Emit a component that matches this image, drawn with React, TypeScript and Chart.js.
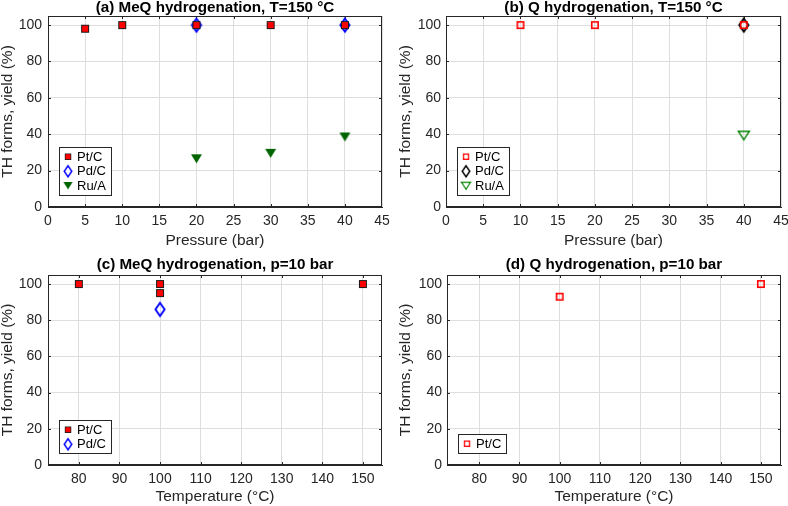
import React, { useEffect, useRef } from 'react';
import { Chart, registerables } from 'chart.js';

Chart.register(...registerables);

// ---------- tick labels ----------
const yieldTicks = [0, 20, 40, 60, 80, 100];
const pressureTicks = [0, 5, 10, 15, 20, 25, 30, 35, 40, 45];
const temperatureTicks = [80, 90, 100, 110, 120, 130, 140, 150];

// ---------- (a) MeQ hydrogenation, T=150 °C ----------
const aPtPressure = [5, 10, 20, 30, 40];
const aPtYield = [98, 100, 100, 100, 100];
const aPdPressure = [20, 40];
const aPdYield = [100, 100];
const aRuPressure = [20, 30, 40];
const aRuYield = [26.5, 29.5, 38.5];

// ---------- (b) Q hydrogenation, T=150 °C ----------
const bPtPressure = [10, 20, 40];
const bPtYield = [100, 100, 100];
const bPdPressure = [40];
const bPdYield = [100];
const bRuPressure = [40];
const bRuYield = [39.3];

// ---------- (c) MeQ hydrogenation, p=10 bar ----------
const cPtTemperature = [80, 100, 100, 150];
const cPtYield = [100, 100, 95, 100];
const cPdTemperature = [100];
const cPdYield = [86];

// ---------- (d) Q hydrogenation, p=10 bar ----------
const dPtTemperature = [100, 150];
const dPtYield = [93, 100];

const FONT = "'Liberation Sans', Arial, Helvetica, sans-serif";
const AXIS = '#262626';
const GRID = '#dedede';

type MarkerKind = 'sqFilled' | 'sqOpen' | 'diamondBlue' | 'diamondBlack' | 'triFilled' | 'triOpen';

function makeMarker(kind: MarkerKind): HTMLCanvasElement {
  const c = document.createElement('canvas');
  const ctx = c.getContext('2d')!;
  if (kind === 'sqFilled') {
    c.width = 10; c.height = 10;
    ctx.fillStyle = '#ff0000';
    ctx.fillRect(1, 1, 8, 8);
    ctx.strokeStyle = '#1a1a1a';
    ctx.lineWidth = 1;
    ctx.strokeRect(1.5, 1.5, 7, 7);
  } else if (kind === 'sqOpen') {
    c.width = 10; c.height = 10;
    ctx.strokeStyle = '#ff0000';
    ctx.lineWidth = 1.6;
    ctx.strokeRect(1.8, 1.8, 6.4, 6.4);
  } else if (kind === 'diamondBlue' || kind === 'diamondBlack') {
    c.width = 16; c.height = 20;
    ctx.strokeStyle = kind === 'diamondBlue' ? '#0000ff' : '#000000';
    ctx.lineWidth = 1.9;
    ctx.beginPath();
    ctx.moveTo(8, 10 - 6.5);
    ctx.lineTo(8 + 4.6, 10);
    ctx.lineTo(8, 10 + 6.5);
    ctx.lineTo(8 - 4.6, 10);
    ctx.closePath();
    ctx.stroke();
  } else if (kind === 'triFilled') {
    c.width = 13; c.height = 11;
    ctx.fillStyle = '#006400';
    ctx.beginPath();
    ctx.moveTo(1, 1);
    ctx.lineTo(12, 1);
    ctx.lineTo(6.5, 10);
    ctx.closePath();
    ctx.fill();
  } else {
    c.width = 14; c.height = 12;
    ctx.strokeStyle = '#008000';
    ctx.lineWidth = 1.4;
    ctx.beginPath();
    ctx.moveTo(1.5, 1.8);
    ctx.lineTo(12.5, 1.8);
    ctx.lineTo(7, 10.2);
    ctx.closePath();
    ctx.stroke();
  }
  return c;
}

type Series = { label: string; x: number[]; y: number[]; marker: MarkerKind };
type Panel = {
  key: string;
  left: number;
  top: number;
  title: string;
  xTitle: string;
  xMin: number;
  xMax: number;
  xTicks: number[];
  area: { l: number; r: number; t: number; b: number };
  padTop: number;
  yTitlePad: number;
  xTitlePad: number;
  tickPadY: number;
  series: Series[];
};

const PANEL_W = 394;
const PANEL_H = 253;

const panels: Panel[] = [
  {
    key: 'a', left: 0, top: 0,
    title: '(a) MeQ hydrogenation, T=150 °C', xTitle: 'Pressure (bar)',
    xMin: 0, xMax: 45, xTicks: pressureTicks,
    area: { l: 48, r: 382, t: 16, b: 207 }, padTop: 0, yTitlePad: 0.3, xTitlePad: 5, tickPadY: 6,
    series: [
      { label: 'Pt/C', x: aPtPressure, y: aPtYield, marker: 'sqFilled' },
      { label: 'Pd/C', x: aPdPressure, y: aPdYield, marker: 'diamondBlue' },
      { label: 'Ru/A', x: aRuPressure, y: aRuYield, marker: 'triFilled' },
    ],
  },
  {
    key: 'b', left: 394, top: 0,
    title: '(b) Q hydrogenation, T=150 °C', xTitle: 'Pressure (bar)',
    xMin: 0, xMax: 45, xTicks: pressureTicks,
    area: { l: 52, r: 387, t: 16, b: 207 }, padTop: 0, yTitlePad: 4, xTitlePad: 5, tickPadY: 5,
    series: [
      { label: 'Pt/C', x: bPtPressure, y: bPtYield, marker: 'sqOpen' },
      { label: 'Pd/C', x: bPdPressure, y: bPdYield, marker: 'diamondBlack' },
      { label: 'Ru/A', x: bRuPressure, y: bRuYield, marker: 'triOpen' },
    ],
  },
  {
    key: 'c', left: 0, top: 253,
    title: '(c) MeQ hydrogenation, p=10 bar', xTitle: 'Temperature (°C)',
    xMin: 72.4, xMax: 154.7, xTicks: temperatureTicks,
    area: { l: 48, r: 382, t: 22, b: 212 }, padTop: 4.5, yTitlePad: 0.3, xTitlePad: 2, tickPadY: 6,
    series: [
      { label: 'Pt/C', x: cPtTemperature, y: cPtYield, marker: 'sqFilled' },
      { label: 'Pd/C', x: cPdTemperature, y: cPdYield, marker: 'diamondBlue' },
    ],
  },
  {
    key: 'd', left: 394, top: 253,
    title: '(d) Q hydrogenation, p=10 bar', xTitle: 'Temperature (°C)',
    xMin: 72, xMax: 155, xTicks: temperatureTicks,
    area: { l: 53, r: 387, t: 22, b: 212 }, padTop: 4.5, yTitlePad: 4, xTitlePad: 2, tickPadY: 5,
    series: [
      { label: 'Pt/C', x: dPtTemperature, y: dPtYield, marker: 'sqOpen' },
    ],
  },
];

const framePlugin = {
  id: 'frameBox',
  beforeDatasetsDraw(chart: any) {
    const { ctx, chartArea } = chart;
    const { left, right, top, bottom } = chartArea;
    ctx.save();
    ctx.strokeStyle = AXIS;
    ctx.lineWidth = 1;
    const xs = chart.scales.x;
    const ys = chart.scales.y;
    ctx.beginPath();
    xs.ticks.forEach((t: any) => {
      const px = Math.round(xs.getPixelForValue(t.value)) + 0.5;
      if (px <= left + 1 || px >= right - 1) return;
      ctx.moveTo(px, bottom); ctx.lineTo(px, bottom - 3);
      ctx.moveTo(px, top); ctx.lineTo(px, top + 3);
    });
    ys.ticks.forEach((t: any) => {
      const py = Math.round(ys.getPixelForValue(t.value)) + 0.5;
      if (py <= top + 1 || py >= bottom - 1) return;
      ctx.moveTo(left, py); ctx.lineTo(left + 3, py);
      ctx.moveTo(right, py); ctx.lineTo(right - 3, py);
    });
    ctx.stroke();
    ctx.strokeRect(Math.round(left) + 0.5, Math.round(top) + 0.5, Math.round(right - left) - 1, Math.round(bottom - top) - 1);
    ctx.restore();
  },
};

const boxLegendPlugin = {
  id: 'boxLegend',
  afterDatasetsDraw(chart: any) {
    const { ctx, chartArea } = chart;
    const items = chart.data.datasets;
    ctx.save();
    ctx.font = `13px ${FONT}`;
    const textW = Math.max(...items.map((d: any) => ctx.measureText(d.label).width));
    const rowH = 14.5;
    const w = Math.round(18 + textW + 5);
    const h = Math.round(2.5 + items.length * rowH + 1.5);
    const left = Math.round(chartArea.left + 11);
    const bottom = Math.round(chartArea.bottom - 12);
    const top = bottom - h;
    ctx.fillStyle = '#ffffff';
    ctx.fillRect(left, top, w, h);
    ctx.strokeStyle = AXIS;
    ctx.lineWidth = 1;
    ctx.strokeRect(left + 0.5, top + 0.5, w, h);
    items.forEach((d: any, i: number) => {
      const cy = top + 2.5 + rowH * (i + 0.5);
      const img = d.pointStyle as HTMLCanvasElement;
      const s = 0.82;
      ctx.drawImage(img, left + 9 - (img.width * s) / 2, cy - (img.height * s) / 2, img.width * s, img.height * s);
      ctx.fillStyle = '#000000';
      ctx.textBaseline = 'middle';
      ctx.textAlign = 'left';
      ctx.fillText(d.label, left + 18, cy + 0.5);
    });
    ctx.restore();
  },
};

function PanelChart({ p }: { p: Panel }) {
  const ref = useRef<HTMLCanvasElement | null>(null);
  useEffect(() => {
    if (!ref.current) return;
    const xTicks = p.xTicks;
    const chart = new Chart(ref.current, {
      type: 'scatter',
      data: {
        datasets: p.series.map((s) => ({
          label: s.label,
          data: s.x.map((v, i) => ({ x: v, y: s.y[i] })),
          pointStyle: makeMarker(s.marker) as any,
          pointRadius: 6,
          showLine: false,
          clip: false as any,
        })),
      },
      options: {
        animation: false,
        responsive: false,
        maintainAspectRatio: false,
        devicePixelRatio: 1,
        events: [],
        layout: {
          padding: { left: 0, right: PANEL_W - p.area.r, top: p.padTop, bottom: 0 },
        },
        plugins: {
          legend: { display: false },
          tooltip: { enabled: false },
          title: {
            display: true,
            text: p.title,
            fullSize: false,
            color: '#000000',
            font: { family: FONT, size: 15.2, weight: 'bold', lineHeight: 1 },
            padding: { top: 0, bottom: p.area.t - p.padTop - 15.2 },
          },
        },
        scales: {
          x: {
            type: 'linear',
            min: p.xMin,
            max: p.xMax,
            afterBuildTicks: (s: any) => {
              s.ticks = xTicks.map((v) => ({ value: v }));
            },
            afterFit: (s: any) => {
              s.height = PANEL_H - p.area.b;
              s.paddingLeft = 0;
              s.paddingRight = 0;
            },
            ticks: {
              font: { family: FONT, size: 14 },
              color: AXIS,
              padding: 6,
              maxRotation: 0,
              autoSkip: false,
              callback: (v: any) => String(v),
            },
            grid: { color: GRID, drawTicks: false, lineWidth: 1 },
            border: { color: AXIS, width: 1 },
            title: {
              display: true,
              text: p.xTitle,
              color: AXIS,
              font: { family: FONT, size: 15.5, lineHeight: 1 },
              padding: { top: 0, bottom: p.xTitlePad },
            },
          },
          y: {
            type: 'linear',
            min: 0,
            max: 105,
            afterBuildTicks: (s: any) => {
              s.ticks = yieldTicks.map((v) => ({ value: v }));
            },
            afterFit: (s: any) => {
              s.width = p.area.l;
              s.paddingTop = 0;
              s.paddingBottom = 0;
            },
            ticks: {
              font: { family: FONT, size: 14 },
              color: AXIS,
              padding: p.tickPadY,
              autoSkip: false,
              callback: (v: any) => String(v),
            },
            grid: { color: GRID, drawTicks: false, lineWidth: 1 },
            border: { color: AXIS, width: 1 },
            title: {
              display: true,
              text: 'TH forms, yield (%)',
              color: AXIS,
              font: { family: FONT, size: 15.5, lineHeight: 1 },
              padding: { top: p.yTitlePad, bottom: 0 },
            },
          },
        },
      } as any,
      plugins: [framePlugin, boxLegendPlugin],
    });
    return () => chart.destroy();
  }, [p]);
  return (
    <canvas
      ref={ref}
      width={PANEL_W}
      height={PANEL_H}
      style={{ position: 'absolute', left: p.left, top: p.top, width: PANEL_W, height: PANEL_H, display: 'block' }}
    />
  );
}

export default function App() {
  return (
    <div style={{ position: 'fixed', left: 0, top: 0, width: 788, height: 506, background: '#ffffff', overflow: 'hidden' }}>
      {panels.map((p) => (
        <PanelChart key={p.key} p={p} />
      ))}
    </div>
  );
}
